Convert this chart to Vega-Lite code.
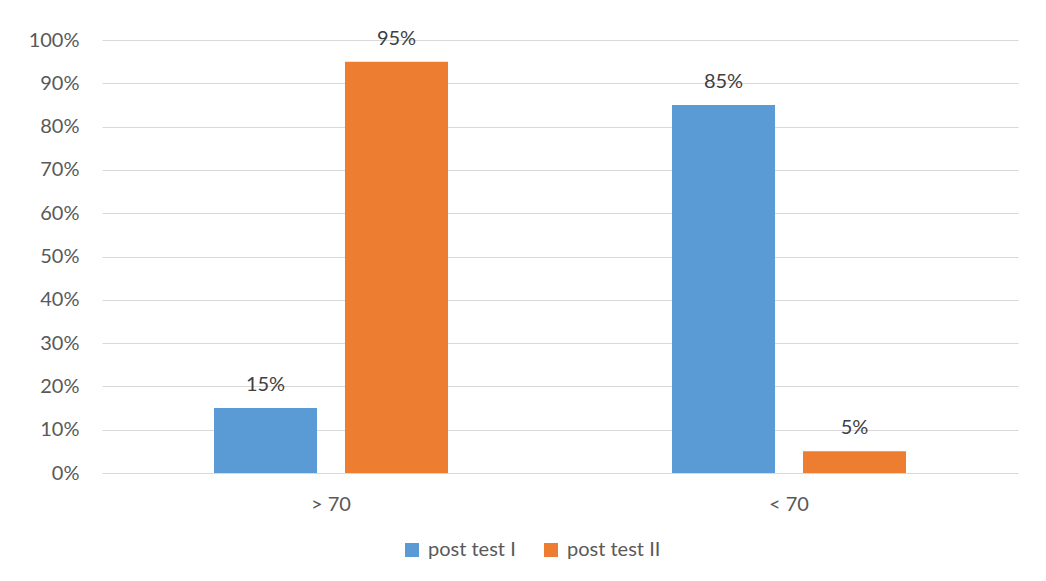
{
  "$schema": "https://vega.github.io/schema/vega-lite/v6.json",
  "autosize": {"type": "none"},
  "width": 916,
  "height": 433,
  "padding": {"left": 102, "top": 40, "right": 28, "bottom": 108},
  "background": "white",
  "data": {
    "values": [
      {"score": "> 70", "test": "post test I", "share": 0.15},
      {"score": "> 70", "test": "post test II", "share": 0.95},
      {"score": "< 70", "test": "post test I", "share": 0.85},
      {"score": "< 70", "test": "post test II", "share": 0.05}
    ]
  },
  "encoding": {
    "x": {
      "field": "score",
      "type": "nominal",
      "sort": ["> 70", "< 70"],
      "scale": {"paddingInner": 0, "paddingOuter": 0},
      "axis": {
        "title": null,
        "labelAngle": 0,
        "domain": false,
        "ticks": false,
        "labelPadding": 21,
        "labelFont": "Lato",
        "labelFontSize": 20,
        "labelColor": "#595959"
      }
    },
    "xOffset": {
      "field": "test",
      "type": "nominal",
      "sort": ["post test I", "post test II"],
      "scale": {"paddingInner": 0.2137, "paddingOuter": 0.855}
    },
    "y": {
      "field": "share",
      "type": "quantitative",
      "scale": {"domain": [0, 1]},
      "axis": {
        "title": null,
        "values": [0, 0.1, 0.2, 0.3, 0.4, 0.5, 0.6, 0.7, 0.8, 0.9, 1],
        "format": ".0%",
        "domain": false,
        "ticks": false,
        "labelPadding": 23,
        "labelFont": "Lato",
        "labelFontSize": 20,
        "labelColor": "#595959",
        "gridColor": "#D9D9D9",
        "gridWidth": 1
      }
    }
  },
  "layer": [
    {
      "mark": {"type": "bar"},
      "encoding": {
        "color": {
          "field": "test",
          "type": "nominal",
          "sort": ["post test I", "post test II"],
          "scale": {"domain": ["post test I", "post test II"], "range": ["#5B9BD5", "#ED7D31"]},
          "legend": {
            "title": null,
            "orient": "none",
            "direction": "horizontal",
            "legendX": 300,
            "legendY": 500,
            "symbolType": "square",
            "symbolSize": 196,
            "symbolStrokeWidth": 0,
            "labelFont": "Lato",
            "labelFontSize": 20,
            "labelColor": "#595959",
            "labelOffset": 6,
            "columnPadding": 25
          }
        }
      }
    },
    {
      "mark": {"type": "text", "dy": -17, "baseline": "alphabetic", "font": "Lato", "fontSize": 20, "color": "#404040"},
      "encoding": {
        "text": {"field": "share", "type": "quantitative", "format": ".0%"}
      }
    }
  ],
  "config": {
    "view": {"stroke": null}
  }
}
